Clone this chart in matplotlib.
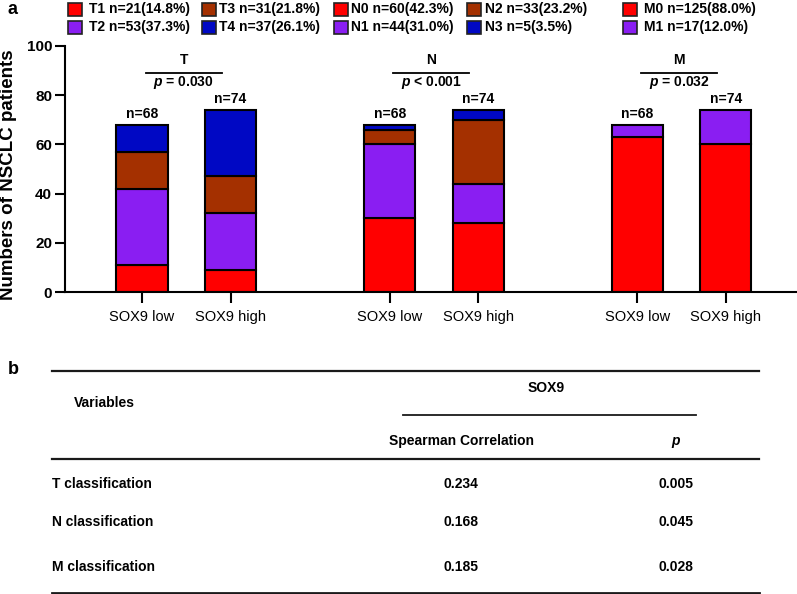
import matplotlib
matplotlib.use("Agg")
import matplotlib.pyplot as plt
from matplotlib.patches import Rectangle
from matplotlib.lines import Line2D

plt.rcParams['font.family'] = ['Liberation Sans', 'DejaVu Sans']
plt.rcParams['mathtext.fontset'] = 'custom'
plt.rcParams['mathtext.bf'] = 'Liberation Sans:bold'
plt.rcParams['mathtext.bfit'] = 'Liberation Sans:italic:bold'
plt.rcParams['mathtext.it'] = 'Liberation Sans:italic'

# ---- data (panel a) ----
group_names = ['T', 'N', 'M']
p_labels = [r'$\mathbfit{p}$ = 0.030', r'$\mathbfit{p}$ < 0.001', r'$\mathbfit{p}$ = 0.032']
bar_labels = ['SOX9 low', 'SOX9 high']
n_labels = ['n=68', 'n=74']

# stacked counts, bottom to top
T_low = [11, 31, 15, 11]
T_high = [9, 23, 15, 27]
N_low = [30, 30, 6, 2]
N_high = [28, 16, 26, 4]
M_low = [63, 5]
M_high = [60, 14]

red = '#FF0000'
purple = '#8A1EF2'
brown = '#A43000'
blue = '#0008C4'
T_colors = [red, purple, brown, blue]
N_colors = [red, purple, brown, blue]
M_colors = [red, purple]

legend_rows = [
    ['T1 n=21(14.8%)', 'T3 n=31(21.8%)', 'N0 n=60(42.3%)', 'N2 n=33(23.2%)', 'M0 n=125(88.0%)'],
    ['T2 n=53(37.3%)', 'T4 n=37(26.1%)', 'N1 n=44(31.0%)', 'N3 n=5(3.5%)', 'M1 n=17(12.0%)'],
]
legend_colors = [
    [red, brown, red, brown, red],
    [purple, blue, purple, blue, purple],
]

# ---- data (panel b) ----
variables = ['T classification', 'N classification', 'M classification']
spearman = ['0.234', '0.168', '0.185']
p_values = ['0.005', '0.045', '0.028']

W, H = 797, 594
fig = plt.figure(figsize=(W / 100, H / 100), dpi=100)


def fx(x):
    return x / W


def fy(y):
    return 1 - y / H


# axes placed by pixel box
ax = fig.add_axes([fx(64.5), fy(292.3), fx(797) - fx(64.5), fy(45.7) - fy(292.3)])

x_pos = [0, 1, 2.8, 3.8, 5.6, 6.6]
stacks = [T_low, T_high, N_low, N_high, M_low, M_high]
colors = [T_colors, T_colors, N_colors, N_colors, M_colors, M_colors]

for xp, vals, cols in zip(x_pos, stacks, colors):
    bottom = 0
    for v, c in zip(vals, cols):
        ax.bar(xp, v, bottom=bottom, width=0.58, color=c, edgecolor='black', linewidth=1.5, zorder=2)
        bottom += v
    label = n_labels[0] if bottom == sum(T_low) else n_labels[1]
    ax.text(xp, bottom + 1.6, label, ha='center', va='bottom', fontsize=10, fontweight='bold')

for gi, name in enumerate(group_names):
    x0 = x_pos[2 * gi]
    ax.plot([x0 + 0.04, x0 + 0.9], [89, 89], color='black', lw=1.3, clip_on=False)
    ax.text(x0 + 0.47, 94.2, name, ha='center', va='center', fontsize=10, fontweight='bold')
    ax.text(x0 + 0.47, 85.0, p_labels[gi], ha='center', va='center', fontsize=10, fontweight='bold')

ax.set_xlim(-0.877, 7.405)
ax.set_ylim(0, 100)
ax.set_yticks([0, 20, 40, 60, 80, 100])
ax.set_xticks(x_pos)
ax.set_xticklabels(bar_labels * 3, fontsize=10.5)
for lab in ax.get_yticklabels():
    lab.set_fontweight('bold')
    lab.set_fontsize(11)
ax.tick_params(axis='y', length=7, width=1.5, pad=2)
ax.tick_params(axis='x', length=8, width=1.5, pad=5)
ax.spines['top'].set_visible(False)
ax.spines['right'].set_visible(False)
ax.spines['left'].set_linewidth(1.5)
ax.spines['bottom'].set_linewidth(1.5)
ax.set_ylabel('Numbers of NSCLC patients', fontsize=13.5, fontweight='bold')
ax.yaxis.set_label_coords(-(64.5 - 17) / (797 - 64.5), 0.476)

# legend drawn as swatches + text
sw_x = [68, 202, 334, 467, 623]
tx_x = [89, 219, 351, 485, 644]
row_y = [9.5, 27.5]
for ri in range(2):
    for ci in range(5):
        fig.add_artist(Rectangle((fx(sw_x[ci]), fy(row_y[ri] + 6.5)), 13.5 / W, 13 / H,
                                 transform=fig.transFigure, facecolor=legend_colors[ri][ci],
                                 edgecolor='#222222', linewidth=1.2))
        fig.text(fx(tx_x[ci]), fy(row_y[ri]), legend_rows[ri][ci], ha='left', va='center',
                 fontsize=10, fontweight='bold')

fig.text(fx(8), fy(9), 'a', ha='left', va='center', fontsize=13, fontweight='bold')
fig.text(fx(8), fy(370), 'b', ha='left', va='center', fontsize=13, fontweight='bold')

# ---- panel b table ----
def hline(x1, x2, y, lw=1.6):
    fig.add_artist(Line2D([fx(x1), fx(x2)], [fy(y), fy(y)], transform=fig.transFigure,
                          color='#1a1a1a', linewidth=lw))


hline(52, 759, 371)
hline(403, 696, 414.5, lw=1.3)
hline(52, 759, 458.5)
hline(52, 759, 592.5, lw=2)

fig.text(fx(74), fy(403), 'Variables', ha='left', va='center', fontsize=10, fontweight='bold')
fig.text(fx(546), fy(388), 'SOX9', ha='center', va='center', fontsize=10, fontweight='bold')
fig.text(fx(461), fy(440.5), 'Spearman Correlation', ha='center', va='center', fontsize=10, fontweight='bold')
fig.text(fx(676), fy(440.5), 'p', ha='center', va='center', fontsize=10, fontweight='bold', fontstyle='italic')

row_ys = [484, 522.5, 567]
for ry, var, s, pv in zip(row_ys, variables, spearman, p_values):
    fig.text(fx(52), fy(ry), var, ha='left', va='center', fontsize=10, fontweight='bold')
    fig.text(fx(461), fy(ry), s, ha='center', va='center', fontsize=10, fontweight='bold')
    fig.text(fx(676), fy(ry), pv, ha='center', va='center', fontsize=10, fontweight='bold')

fig.savefig('out.png', dpi=100)
